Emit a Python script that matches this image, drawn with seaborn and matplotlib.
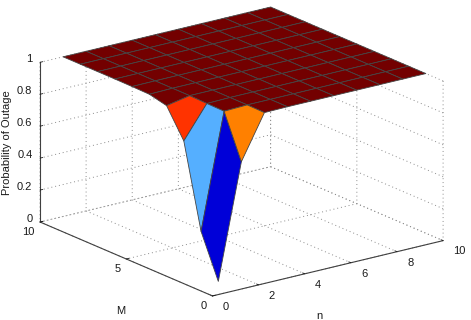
import matplotlib
matplotlib.use("Agg")
import numpy as np
import pandas as pd
import seaborn as sns
import matplotlib.pyplot as plt
from mpl_toolkits.mplot3d import proj3d

sns.set_theme(style="white", rc={"font.family": "Liberation Sans", "font.size": 8})

n_values = list(range(1, 11))
M_values = list(range(1, 11))
outage_M1 = [0.01, 0.725, 0.998, 1, 1, 1, 1, 1, 1, 1]
outage_M2 = [0.277, 0.995, 1, 1, 1, 1, 1, 1, 1, 1]
outage_M3 = [0.797, 0.997, 1, 1, 1, 1, 1, 1, 1, 1]
outage_M4 = [0.972, 1, 1, 1, 1, 1, 1, 1, 1, 1]
outage_M5 = [0.997, 1, 1, 1, 1, 1, 1, 1, 1, 1]
outage_M6 = [0.999, 1, 1, 1, 1, 1, 1, 1, 1, 1]
outage_M7 = [1, 1, 1, 1, 1, 1, 1, 1, 1, 1]
outage_M8 = [1, 1, 1, 1, 1, 1, 1, 1, 1, 1]
outage_M9 = [1, 1, 1, 1, 1, 1, 1, 1, 1, 1]
outage_M10 = [1, 1, 1, 1, 1, 1, 1, 1, 1, 1]
n_ticks = [0, 2, 4, 6, 8, 10]
M_ticks = [0, 5, 10]
z_ticks = [0, 0.2, 0.4, 0.6, 0.8, 1]
z_ticklabels = ["0", "0.2", "0.4", "0.6", "0.8", "1"]

df = pd.DataFrame([outage_M1, outage_M2, outage_M3, outage_M4, outage_M5,
                   outage_M6, outage_M7, outage_M8, outage_M9, outage_M10],
                  index=M_values, columns=n_values)
Z = df.to_numpy()
X, Y = np.meshgrid(df.columns.to_numpy(), df.index.to_numpy())

# flat shading: each cell takes its colour from its lowest-index corner
palette = {"low": "#0000D8", "mid": "#55AFFF", "high": "#FF8000", "higher": "#FF3300", "top": "#730000"}
def cell_colour(z):
    if z < 0.1: return palette["low"]
    if z < 0.5: return palette["mid"]
    if z < 0.76: return palette["high"]
    if z < 0.9: return palette["higher"]
    return palette["top"]
face = np.array([[matplotlib.colors.to_rgba(cell_colour(v)) for v in row] for row in Z])

fig = plt.figure(figsize=(4.71, 3.2), dpi=100)
ax = fig.add_axes([0, 0, 1, 1], projection="3d", proj_type="ortho")
ax.patch.set_alpha(0)
ax.view_init(elev=18.7, azim=-126.8)
ax.plot_surface(X, Y, Z, facecolors=face, rstride=1, cstride=1, shade=False,
                edgecolor="#454545", linewidth=0.6, antialiased=True)
ax.set_xlim(0, 10, view_margin=0)
ax.set_ylim(0, 10, view_margin=0)
ax.set_zlim(0, 1, view_margin=0)
ax.set_xticks(n_ticks)
ax.set_yticks(M_ticks)
ax.set_zticks(z_ticks)
ax.set_zticklabels(z_ticklabels)

for axis in (ax.xaxis, ax.yaxis, ax.zaxis):
    axis.pane.set_visible(False)
    axis.line.set_color("#404040")
    axis.line.set_linewidth(0.8)
    axis._axinfo["grid"].update(color="#8c8c8c", linestyle=(0, (1, 3)), linewidth=0.7)
    axis._axinfo["tick"].update(inward_factor=0.0, outward_factor=0.15, linewidth={True: 0.6, False: 0.6}, color="#404040")
ax.tick_params(labelsize=8, colors="#1a1a1a")
ax.tick_params(axis="x", pad=1.5)
ax.tick_params(axis="y", pad=-4)
ax.tick_params(axis="z", pad=-5)
ax.grid(True)
for tick in ax.xaxis.get_major_ticks():
    tick.label1.set_ha("left"); tick.label1.set_va("baseline")
for tick in ax.yaxis.get_major_ticks():
    tick.label1.set_ha("right"); tick.label1.set_va("top")
for tick in ax.zaxis.get_major_ticks():
    tick.label1.set_ha("right"); tick.label1.set_va("baseline")

# fit the box to the frame of the reference
W, H = 471, 320
ASPECT = [1.0, 1.0, 0.6]
ax.set_box_aspect(ASPECT, zoom=1.0)
def pix(x, y, z):
    a, b, _ = proj3d.proj_transform(x, y, z, ax.get_proj())
    p = ax.transData.transform((a, b))
    return p[0], H - p[1]
side = 1.0
for _ in range(4):
    fig.canvas.draw()
    left = pix(0, 10, 0); right = pix(10, 0, 0); top = pix(0, 10, 1)
    side *= 405 / (right[0] - left[0])
    ASPECT[2] *= 163 / (left[1] - top[1])
    ax.set_box_aspect(ASPECT, zoom=1.0)
    ax.set_position([0, 0, side * H / W, side])
    fig.canvas.draw()
    left = pix(0, 10, 0)
    pos = ax.get_position()
    ax.set_position([pos.x0 + (40 - left[0]) / W, pos.y0 + (left[1] - 222) / H, pos.width, pos.height])

fig.text(7 / W, 1 - 143 / H, "Probability of Outage", rotation=90, ha="center", va="center", fontsize=8, color="#1a1a1a")
fig.text(121 / W, 1 - 311 / H, "M", ha="center", va="center", fontsize=8, color="#1a1a1a")
fig.text(319 / W, 1 - 316 / H, "n", ha="center", va="center", fontsize=8, color="#1a1a1a")

fig.savefig("out.png", dpi=100)
